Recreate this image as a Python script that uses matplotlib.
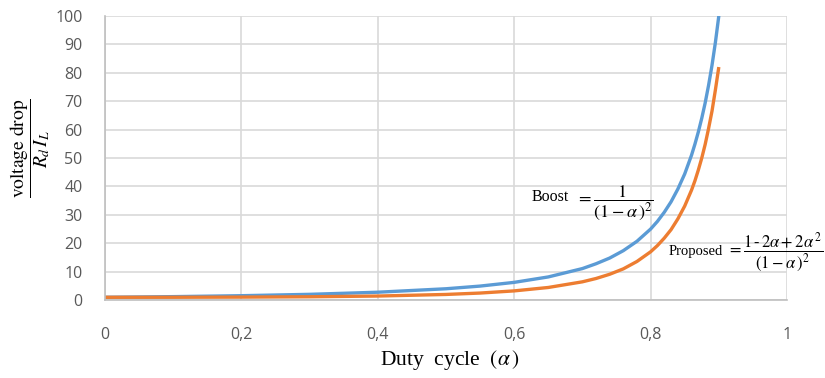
#Voltage drop vs duty cycle, boost vs proposed converter

import matplotlib.pyplot as plt

plt.rcParams['mathtext.fontset'] = 'stix'

# values
duty = [0.0, 0.1, 0.2, 0.3, 0.4, 0.5, 0.55, 0.6, 0.65, 0.7, 0.72, 0.74, 0.76,
        0.78, 0.8, 0.81, 0.82, 0.83, 0.84, 0.85, 0.86, 0.865, 0.87, 0.875,
        0.88, 0.885, 0.89, 0.895, 0.9]
boost = [1.0, 1.23, 1.56, 2.04, 2.78, 4.0, 4.94, 6.25, 8.16, 11.1, 12.8, 14.8,
         17.4, 20.7, 25.0, 27.7, 30.9, 34.6, 39.1, 44.4, 51.0, 54.9, 59.2, 64.0,
         69.4, 75.6, 82.6, 90.7, 100.0]
proposed = [1.0, 1.01, 1.06, 1.18, 1.44, 2.0, 2.49, 3.25, 4.45, 6.44, 7.61, 9.1,
            11.0, 13.6, 17.0, 19.2, 21.8, 24.8, 28.6, 33.1, 38.7, 42.0, 45.8, 50.0,
            54.8, 60.4, 66.5, 74.0, 82.0]

xticks = [0, 0.2, 0.4, 0.6, 0.8, 1.0]
xticklabels = ['0', '0,2', '0,4', '0,6', '0,8', '1']
yticks = [0, 10, 20, 30, 40, 50, 60, 70, 80, 90, 100]

fig = plt.figure(figsize=(8.25, 3.78), dpi=100)
ax = fig.add_axes([0.127, 0.206, 0.827, 0.752])

ax.plot(duty, boost, color='#5B9BD5', lw=2.4, solid_capstyle='butt')
ax.plot(duty, proposed, color='#ED7D31', lw=2.4, solid_capstyle='butt')

ax.set_xlim(0, 1)
ax.set_ylim(0, 100)
ax.set_xticks(xticks)
ax.set_xticklabels(xticklabels)
ax.set_yticks(yticks)
ax.grid(True, color='#D9D9D9', lw=1.2)
ax.set_axisbelow(True)
for s in ['top', 'right']:
	ax.spines[s].set_visible(False)
for s in ['left', 'bottom']:
	ax.spines[s].set_color('#BFBFBF')
	ax.spines[s].set_linewidth(1.2)
ax.tick_params(length=0, labelsize=11.5, labelcolor='#595959')
ax.tick_params(axis='x', pad=19)
ax.tick_params(axis='y', pad=16)
for lab in ax.get_xticklabels() + ax.get_yticklabels():
	lab.set_family('Open Sans')

# Boost annotation
fig.text(532/825, 1-197/378, 'Boost', family='Liberation Serif',
	fontsize=11.5, ha='left', va='center')
fig.text(576/825, 1-203/378, r'$=\dfrac{1}{(1-\alpha\,)^2}$',
	fontsize=13, ha='left', va='center')

# Proposed annotation
fig.text(669/825, 1-251/378, 'Proposed', family='Liberation Serif',
	fontsize=10.5, ha='left', va='center')
fig.text(727/825, 1-252/378, r'$=\dfrac{1\,\text{-}\,2\alpha+2\alpha^{\,2}}{(1-\alpha\,)^2}$',
	fontsize=12, ha='left', va='center')

fig.text(30/825, 1-148/378, r'$\dfrac{\mathrm{voltage\ drop}}{R_d\,I_L}$', rotation=90,
	fontsize=14, ha='center', va='center')
fig.text(450/825, 1-360/378, r'Duty  cycle  $(\alpha\,)$', family='Liberation Serif',
	fontsize=15.5, ha='center', va='center')

plt.savefig('out.png')
plt.close()
